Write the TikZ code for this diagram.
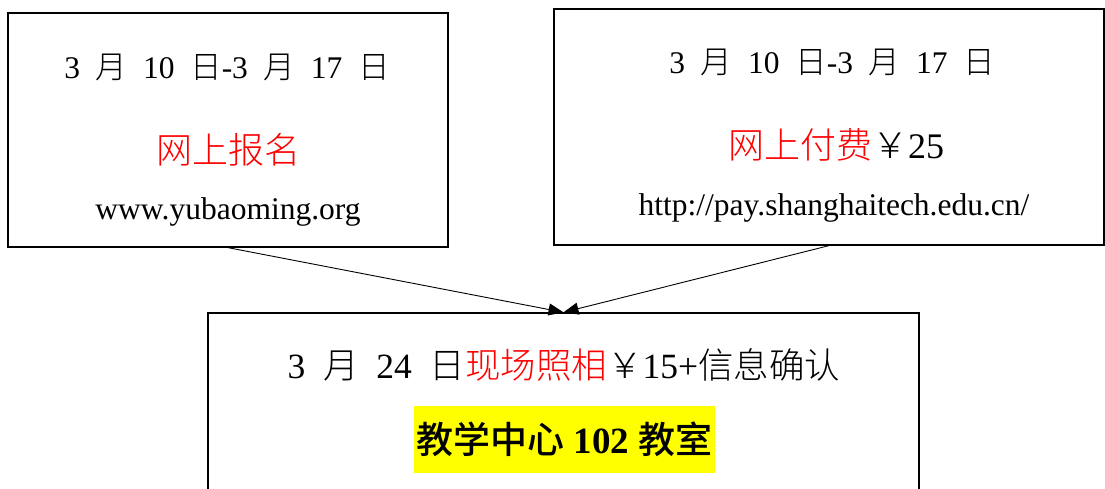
\documentclass[tikz,border=0pt]{standalone}
\usepackage{fontspec}
\setmainfont{Liberation Serif}
\newfontfamily\cjk{Noto Sans CJK SC}[UprightFont=* Light, BoldFont=* Medium]
\usetikzlibrary{arrows.meta}
\newcommand\zh[1]{{\cjk #1}}
\newcommand\hs{\hspace{0.5em}}
\definecolor{hlred}{RGB}{255,0,0}
\definecolor{hlyellow}{RGB}{255,255,0}
\tikzset{
  box/.style={draw=black, line width=1.3pt, fill=none, inner sep=0pt},
  txt/.style={inner sep=0pt, anchor=center, text=black},
  small/.style={font=\fontsize{31.5}{36}\selectfont},
  big/.style={font=\fontsize{36}{40}\selectfont},
  conn/.style={draw=black, line width=0.9pt, -{Triangle[length=15pt,width=12pt]}}
}
\begin{document}
\begin{tikzpicture}[x=1pt,y=1pt]
\useasboundingbox (0,0) rectangle (1105,489);
\clip (0,0) rectangle (1105,489);
\fill[white] (0,0) rectangle (1105,489);
% boxes
\node[box, minimum width=440pt, minimum height=234pt] (b1) at (228,359) {};
\node[box, minimum width=550pt, minimum height=236pt] (b2) at (829,362) {};
\node[box, minimum width=711pt, minimum height=216pt] (b3) at (563.5,68) {};
% box 1 texts
\node[txt, small] (t11) at (227,422) {3\hs\zh{月}\hs 10\hs\zh{日}-3\hs\zh{月}\hs 17\hs\zh{日}};
\node[txt, big, text=hlred] (t12) at (228,339) {\zh{网上报名}};
\node[txt, small] (t13) at (228,277) {www.yubaoming.org};
% box 2 texts
\node[txt, small] (t21) at (832,427) {3\hs\zh{月}\hs 10\hs\zh{日}-3\hs\zh{月}\hs 17\hs\zh{日}};
\node[txt, big] (t22) at (836,344) {\textcolor{hlred}{\zh{网上付费}}\zh{￥}25};
\node[txt, small] (t23) at (834,281) {http://pay.shanghaitech.edu.cn/};
% box 3 texts
\node[txt, font=\fontsize{35.5}{40}\selectfont] (t31) at (564,124) {3\hs\zh{月}\hs 24\hs\zh{日}\textcolor{hlred}{\zh{现场照相}}\zh{￥}15+\zh{信息确认}};
\node[txt, fill=hlyellow, minimum width=301pt, minimum height=67pt, font=\fontsize{37}{40}\selectfont\bfseries] (t32) at (564.5,49.5) {\zh{\bfseries 教学中心} 102 \zh{\bfseries 教室}};
% connectors
\draw[conn] (b1.south) -- (b3.north);
\draw[conn] (b2.south) -- (b3.north);
\end{tikzpicture}
\end{document}
